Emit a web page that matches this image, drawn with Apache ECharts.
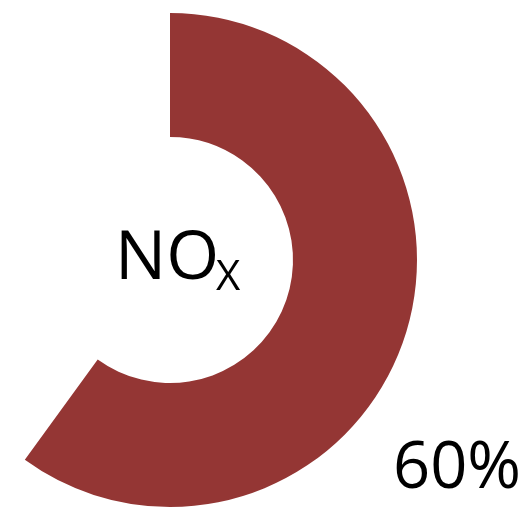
<!DOCTYPE html>
<html>
<head>
<meta charset="utf-8">
<script src="https://cdn.jsdelivr.net/npm/echarts@6/dist/echarts.min.js"></script>
<style>
  html, body { margin: 0; padding: 0; background: #ffffff; }
  #chart { width: 525px; height: 507px; }
</style>
</head>
<body>
<div id="chart"></div>
<script>
// Share of NOx, drawn as a single ring segment plus an invisible remainder
const categories = ['NOx', 'Rest'];
const values = [60, 40];
const subjectMain = 'NO';
const subjectSub = 'X';

const total = values.reduce((a, b) => a + b, 0);
const shareLabel = Math.round(values[0] / total * 100) + '%';

const chart = echarts.init(document.getElementById('chart'), null, { renderer: 'canvas' });
chart.setOption({
  backgroundColor: '#ffffff',
  animation: false,
  series: [{
    type: 'pie',
    center: [170, 260],
    radius: [123, 247],
    startAngle: 90,
    clockwise: true,
    silent: true,
    label: { show: false },
    labelLine: { show: false },
    emphasis: { disabled: true },
    data: categories.map((name, i) => ({
      name: name,
      value: values[i],
      itemStyle: { color: i === 0 ? '#943634' : 'rgba(0,0,0,0)' }
    }))
  }],
  graphic: [
    {
      type: 'text', left: 115, top: 226, silent: true,
      style: { text: subjectMain, font: '68px "Open Sans"', fill: '#000' }
    },
    {
      type: 'text', left: 216, top: 257, silent: true,
      style: { text: subjectSub, font: '42px "Open Sans"', fill: '#000' }
    },
    {
      type: 'text', left: 393, top: 437, silent: true,
      style: { text: shareLabel, font: '65px "Open Sans"', fill: '#000' }
    }
  ]
});
</script>
</body>
</html>
